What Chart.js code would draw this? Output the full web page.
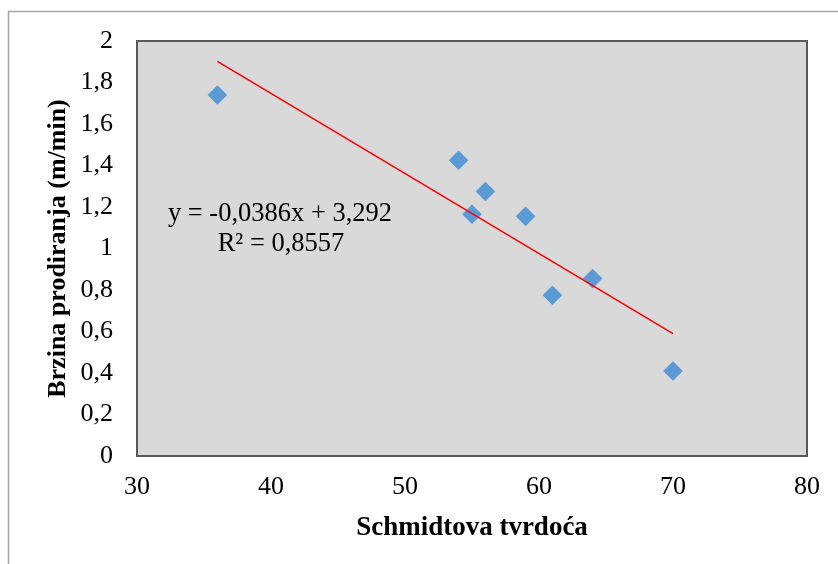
<!DOCTYPE html>
<html>
<head>
<meta charset="utf-8">
<script src="https://cdn.jsdelivr.net/npm/chart.js@4"></script>
<style>
html,body{margin:0;padding:0;background:#fff;}
#wrap{position:relative;width:838px;height:564px;}
</style>
</head>
<body>
<div id="wrap"><canvas id="c"></canvas></div>
<script>
// Data
const hardness = [36, 54, 55, 56, 59, 61, 64, 70];
const speed = [1.74, 1.425, 1.165, 1.275, 1.155, 0.775, 0.855, 0.41];
const trendX = [36, 70];
const trendY = [1.902, 0.59];
const xTicks = [30, 40, 50, 60, 70, 80];
const xTickLabels = ['30', '40', '50', '60', '70', '80'];
const yTicks = [0, 0.2, 0.4, 0.6, 0.8, 1, 1.2, 1.4, 1.6, 1.8, 2];
const yTickLabels = ['0', '0,2', '0,4', '0,6', '0,8', '1', '1,2', '1,4', '1,6', '1,8', '2'];
const xTitle = 'Schmidtova tvrdoća';
const yTitle = 'Brzina prodiranja (m/min)';
const eqLine1 = 'y = -0,0386x + 3,292';
const eqLine2 = 'R² = 0,8557';

const FONT = "'Liberation Serif', 'Times New Roman', serif";

const bgPlugin = {
  id: 'bg',
  beforeDraw(chart) {
    const {ctx, chartArea: a} = chart;
    ctx.save();
    ctx.fillStyle = '#fff';
    ctx.fillRect(0, 0, chart.width, chart.height);
    ctx.strokeStyle = '#a6a6a6';
    ctx.lineWidth = 1.5;
    ctx.strokeRect(8.5, 11.5, 840, 560);
    ctx.fillStyle = '#d9d9d9';
    ctx.fillRect(a.left, a.top, a.right - a.left, a.bottom - a.top);
    ctx.restore();
  },
  afterDraw(chart) {
    const {ctx, chartArea: a} = chart;
    ctx.save();
    ctx.strokeStyle = '#595959';
    ctx.lineWidth = 2;
    ctx.strokeRect(a.left, a.top, a.right - a.left, a.bottom - a.top);
    ctx.fillStyle = '#000';
    ctx.font = "26.5px " + FONT;
    ctx.textAlign = 'center';
    ctx.textBaseline = 'alphabetic';
    ctx.fillText(eqLine1, a.left + 143, a.top + 180);
    ctx.fillText(eqLine2, a.left + 144, a.top + 210);
    ctx.restore();
  }
};

new Chart(document.getElementById('c'), {
  data: {
    datasets: [
      {
        type: 'line',
        data: trendX.map((x, i) => ({x, y: trendY[i]})),
        borderColor: '#ff0000',
        borderWidth: 1.6,
        pointRadius: 0,
        fill: false,
        tension: 0
      },
      {
        type: 'scatter',
        data: hardness.map((x, i) => ({x, y: speed[i]})),
        pointStyle: 'rectRot',
        pointRadius: 9.8,
        pointHoverRadius: 9.8,
        backgroundColor: '#5b9bd5',
        borderColor: '#5b9bd5',
        borderWidth: 0
      }
    ]
  },
  options: {
    responsive: true,
    maintainAspectRatio: false,
    animation: false,
    devicePixelRatio: 1,
    layout: {padding: {left: 0, top: 41, right: 31, bottom: 0}},
    plugins: {legend: {display: false}, tooltip: {enabled: false}},
    scales: {
      x: {
        type: 'linear',
        min: 30, max: 80,
        afterBuildTicks: s => { s.ticks = xTicks.map(v => ({value: v})); },
        afterFit: s => { s.height = 108; },
        grid: {display: false, drawTicks: false},
        border: {display: false},
        ticks: {
          color: '#000',
          font: {family: FONT, size: 26},
          padding: 16,
          maxRotation: 0,
          autoSkip: false,
          callback: (v, i) => xTickLabels[i]
        },
        title: {
          display: true,
          text: xTitle,
          color: '#000',
          font: {family: FONT, size: 27, weight: 'bold'},
          padding: {top: 0, bottom: 20}
        }
      },
      y: {
        type: 'linear',
        min: 0, max: 2,
        afterBuildTicks: s => { s.ticks = yTicks.map(v => ({value: v})); },
        afterFit: s => { s.width = 137; },
        grid: {display: false, drawTicks: false},
        border: {display: false},
        ticks: {
          color: '#000',
          font: {family: FONT, size: 26},
          padding: 24,
          autoSkip: false,
          callback: (v, i) => yTickLabels[i]
        },
        title: {
          display: true,
          text: yTitle,
          color: '#000',
          font: {family: FONT, size: 26, weight: 'bold'},
          padding: {top: 43, bottom: 0}
        }
      }
    }
  },
  plugins: [bgPlugin]
});
</script>
</body>
</html>
